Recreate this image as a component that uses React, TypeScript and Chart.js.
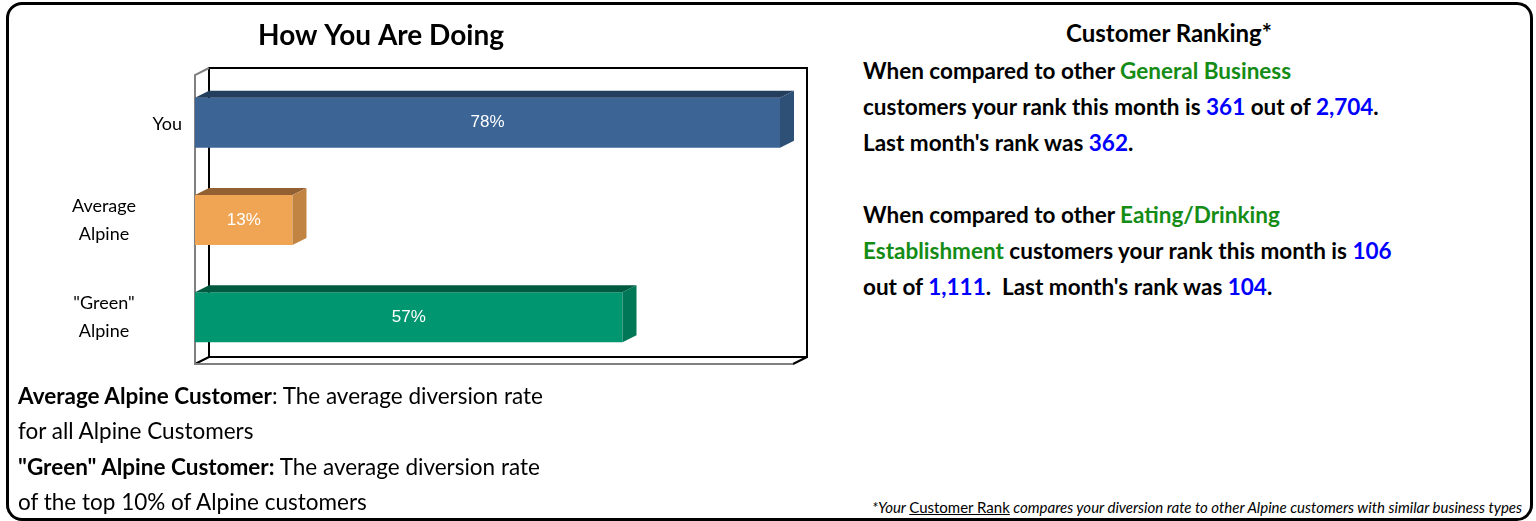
import React, { useEffect, useRef } from "react";
import { Chart, registerables } from "chart.js";

Chart.register(...registerables);

// ---------- data ----------
const categories: (string | string[])[] = ["You", ["Average", "Alpine"], ['"Green"', "Alpine"]];
const values: number[] = [78, 13, 57];
const valueLabels: string[] = ["78%", "13%", "57%"];
const axisMin = 0;
const axisMax = 80;
const chartTitle = "How You Are Doing";

// ---------- styles ----------
const frontColors = ["#3C6596", "#F0A555", "#009670"];
const topColors = ["#243E5D", "#926032", "#005A40"];
const sideColors = ["#2E4F76", "#C18442", "#007858"];
const FONT = "Lato, 'Open Sans', sans-serif";
const GREEN = "#158C15";
const BLUE = "#0000FF";

const DX = 14;
const DY = -7;

const bar3dPlugin = {
  id: "bar3d",
  beforeDatasetsDraw(chart: any) {
    const { ctx, chartArea: a } = chart;
    const L = a.left, R = a.right - 2, T = a.top + 1, B = a.bottom - 2;
    ctx.save();
    ctx.lineWidth = 2;
    ctx.strokeStyle = "#000";
    ctx.strokeRect(L + DX, T + DY, R - L, B - T);
    ctx.beginPath();
    ctx.moveTo(L, B);
    ctx.lineTo(L + DX, B + DY);
    ctx.moveTo(R, B);
    ctx.lineTo(R + DX, B + DY);
    ctx.stroke();
    ctx.strokeStyle = "#808080";
    ctx.beginPath();
    ctx.moveTo(L + DX, T + DY);
    ctx.lineTo(L, T);
    ctx.lineTo(L, B);
    ctx.lineTo(R, B);
    ctx.stroke();
    ctx.restore();
  },
  afterDatasetsDraw(chart: any) {
    const { ctx } = chart;
    const meta = chart.getDatasetMeta(0);
    ctx.save();
    meta.data.forEach((el: any, i: number) => {
      const { x, y, base, height } = el.getProps(["x", "y", "base", "height"], true);
      const x0 = Math.min(base, x), x1 = Math.max(base, x);
      const y0 = y - height / 2, y1 = y + height / 2;
      ctx.fillStyle = topColors[i];
      ctx.beginPath();
      ctx.moveTo(x0, y0);
      ctx.lineTo(x0 + DX, y0 + DY);
      ctx.lineTo(x1 + DX, y0 + DY);
      ctx.lineTo(x1, y0);
      ctx.closePath();
      ctx.fill();
      ctx.fillStyle = sideColors[i];
      ctx.beginPath();
      ctx.moveTo(x1, y0);
      ctx.lineTo(x1 + DX, y0 + DY);
      ctx.lineTo(x1 + DX, y1 + DY);
      ctx.lineTo(x1, y1);
      ctx.closePath();
      ctx.fill();
      ctx.fillStyle = "#FFFFFF";
      ctx.font = "17px 'Liberation Sans', Arial, sans-serif";
      ctx.textAlign = "center";
      ctx.textBaseline = "middle";
      ctx.fillText(valueLabels[i], (x0 + x1) / 2, y);
    });
    ctx.restore();
  },
  afterDraw(chart: any) {
    const { ctx, chartArea: a } = chart;
    const yScale = chart.scales.y;
    ctx.save();
    // title
    ctx.fillStyle = "#000";
    ctx.font = `bold 28px ${FONT}`;
    ctx.textAlign = "center";
    ctx.textBaseline = "middle";
    ctx.fillText(chartTitle, 381, 36);
    // category labels
    ctx.font = `18px ${FONT}`;
    categories.forEach((c, i) => {
      const yc = yScale.getPixelForValue(i);
      if (Array.isArray(c)) {
        const lh = 28;
        ctx.textAlign = "center";
        c.forEach((line, j) => {
          ctx.fillText(line, a.left - 91, yc + (j - (c.length - 1) / 2) * lh);
        });
      } else {
        ctx.textAlign = "right";
        ctx.fillText(c, a.left - 13, yc + 2);
      }
    });
    ctx.restore();
  },
};

function BarChart() {
  const ref = useRef<HTMLCanvasElement | null>(null);
  useEffect(() => {
    if (!ref.current) return;
    const chart = new Chart(ref.current, {
      type: "bar",
      data: {
        labels: categories as any,
        datasets: [
          {
            data: values,
            backgroundColor: frontColors,
            borderWidth: 0,
            barPercentage: 1,
            categoryPercentage: 0.514,
          },
        ],
      },
      options: {
        indexAxis: "y",
        animation: false,
        responsive: false,
        events: [],
        layout: { padding: { left: 195, right: 35, top: 74, bottom: 14 } },
        scales: {
          x: { display: false, min: axisMin, max: axisMax },
          y: { display: false },
        },
        plugins: {
          legend: { display: false },
          title: { display: false },
          tooltip: { enabled: false },
        },
      },
      plugins: [bar3dPlugin],
    });
    return () => chart.destroy();
  }, []);
  return (
    <canvas
      ref={ref}
      width={830}
      height={380}
      style={{ position: "absolute", left: 0, top: 0, width: 830, height: 380 }}
    />
  );
}

const g = (t: string) => <span style={{ color: GREEN }}>{t}</span>;
const b = (t: string) => <span style={{ color: BLUE }}>{t}</span>;

export default function App() {
  return (
    <div style={{ position: "absolute", left: 0, top: 0, width: 1536, height: 521, fontFamily: FONT, color: "#000" }}>
      <div
        style={{
          position: "absolute",
          left: 6,
          top: 2,
          width: 1527,
          height: 519,
          border: "3px solid #000",
          borderRadius: 16,
          boxSizing: "border-box",
        }}
      />
      <BarChart />
      <div
        style={{
          position: "absolute",
          left: 1169 - 200,
          width: 400,
          top: 18,
          textAlign: "center",
          fontWeight: 700,
          fontSize: 24,
          lineHeight: "30px",
        }}
      >
        Customer Ranking*
      </div>
      <div
        style={{
          position: "absolute",
          left: 863,
          top: 53,
          fontWeight: 700,
          fontSize: 22.5,
          lineHeight: "36px",
          whiteSpace: "nowrap",
        }}
      >
        When compared to other {g("General Business")}
        <br />
        customers your rank this month is {b("361")} out of {b("2,704")}.
        <br />
        Last month's rank was {b("362")}.
        <br />
        <br />
        When compared to other {g("Eating/Drinking")}
        <br />
        {g("Establishment")} customers your rank this month is {b("106")}
        <br />
        out of {b("1,111")}.{"\u00a0 "}Last month's rank was {b("104")}.
      </div>
      <div
        style={{
          position: "absolute",
          left: 18,
          top: 378,
          fontSize: 22.5,
          lineHeight: "35.3px",
          whiteSpace: "nowrap",
        }}
      >
        <b>Average Alpine Customer</b>: The average diversion rate
        <br />
        for all Alpine Customers
        <br />
        <b>"Green" Alpine Customer:</b> The average diversion rate
        <br />
        of the top 10% of Alpine customers
      </div>
      <div
        style={{
          position: "absolute",
          right: 14,
          top: 497,
          fontSize: 15,
          lineHeight: "20px",
          fontStyle: "italic",
          whiteSpace: "nowrap",
        }}
      >
        *Your <span style={{ fontStyle: "normal", textDecoration: "underline" }}>Customer Rank</span> compares your
        diversion rate to other Alpine customers with similar business types
      </div>
    </div>
  );
}
